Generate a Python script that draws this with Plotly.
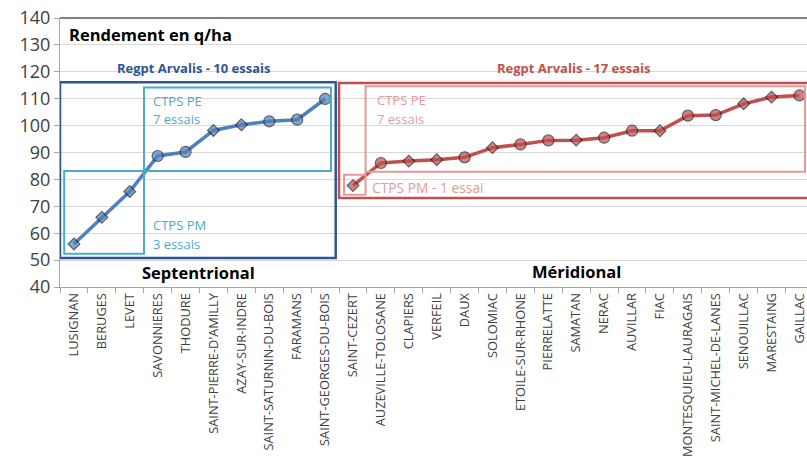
import plotly.graph_objects as go

# Yield per trial site (q/ha), northern and southern groups
sites_nord = ["LUSIGNAN", "BERUGES", "LEVET", "SAVONNIERES", "THODURE",
              "SAINT-PIERRE-D'AMILLY", "AZAY-SUR-INDRE", "SAINT-SATURNIN-DU-BOIS",
              "FARAMANS", "SAINT-GEORGES-DU-BOIS"]
yield_nord = [56.0, 65.9, 75.5, 88.7, 90.2, 98.2, 100.3, 101.6, 102.2, 109.9]
marker_nord = ["diamond", "diamond", "diamond", "circle", "circle",
               "diamond", "diamond", "circle", "circle", "circle"]

sites_sud = ["SAINT-CEZERT", "AUZEVILLE-TOLOSANE", "CLAPIERS", "VERFEIL", "DAUX",
             "SOLOMIAC", "ETOILE-SUR-RHONE", "PIERRELATTE", "SAMATAN", "NERAC",
             "AUVILLAR", "FIAC", "MONTESQUIEU-LAURAGAIS", "SAINT-MICHEL-DE-LANES",
             "SENOUILLAC", "MARESTAING", "GAILLAC"]
yield_sud = [77.7, 86.1, 86.8, 87.3, 88.2, 91.8, 93.0, 94.5, 94.6, 95.5,
             98.1, 98.1, 103.7, 103.9, 108.1, 110.6, 111.2]
marker_sud = ["diamond", "circle", "diamond", "diamond", "circle",
              "diamond", "circle", "circle", "diamond", "circle",
              "circle", "diamond", "circle", "circle", "diamond", "diamond", "circle"]

y_ticks = [40, 50, 60, 70, 80, 90, 100, 110, 120, 130, 140]

BLUE = "#4f81bd"
RED = "#c0504d"
NAVY = "#2f5597"
CYAN = "#4bacc6"
PINK = "#e39a99"
OUTLINE = "#1f1f1f"


def sizes(symbols):
    return [11 if s == "circle" else 9 for s in symbols]


fig = go.Figure()
fig.add_trace(go.Scatter(
    x=sites_nord, y=yield_nord, mode="lines+markers",
    line=dict(color=BLUE, width=3.5),
    marker=dict(symbol=marker_nord, size=sizes(marker_nord), color=BLUE,
                line=dict(color=OUTLINE, width=1.2)),
    showlegend=False, cliponaxis=False))
fig.add_trace(go.Scatter(
    x=sites_sud, y=yield_sud, mode="lines+markers",
    line=dict(color=RED, width=3.5),
    marker=dict(symbol=marker_sud, size=sizes(marker_sud), color=RED,
                line=dict(color=OUTLINE, width=1.2)),
    showlegend=False, cliponaxis=False))

shapes = [
    # northern group frames
    dict(type="rect", x0=-0.5, x1=9.38, y0=50.8, y1=116.1, line=dict(color=NAVY, width=2.5)),
    dict(type="rect", x0=-0.35, x1=2.51, y0=52.4, y1=83.1, line=dict(color=CYAN, width=2)),
    dict(type="rect", x0=2.51, x1=9.21, y0=83.1, y1=114.2, line=dict(color=CYAN, width=2)),
    # southern group frames
    dict(type="rect", x0=9.5, x1=26.4, y0=73.1, y1=115.8, line=dict(color=RED, width=2.5)),
    dict(type="rect", x0=10.45, x1=26.2, y0=82.8, y1=114.6, line=dict(color=PINK, width=2)),
    dict(type="rect", x0=9.68, x1=10.45, y0=74.3, y1=81.7, line=dict(color=PINK, width=2)),
    # top border of the plot area
    dict(type="line", xref="paper", yref="paper", x0=0, x1=1, y0=1, y1=1,
         line=dict(color="#595959", width=1.5)),
]

F = "Open Sans, Calibri, Arial, sans-serif"


def note(x, y, text, color, size=13, anchor="left", bold=False):
    return dict(x=x, y=y, text=f"<b>{text}</b>" if bold else text, showarrow=False,
                xanchor=anchor, font=dict(size=size, color=color, family=F))


annotations = [
    dict(x=0.009, y=133.9, xref="paper", yref="y", text="<b>Rendement en q/ha</b>",
         showarrow=False, xanchor="left", font=dict(size=16.5, color="#000000", family=F)),
    note(4.3, 121.5, "Regpt Arvalis - 10 essais", NAVY, anchor="center", bold=True),
    note(2.75, 109.0, "CTPS PE", CYAN),
    note(2.75, 102.45, "7 essais", CYAN),
    note(2.75, 63.05, "CTPS PM", CYAN),
    note(2.75, 56.0, "3 essais", CYAN),
    note(4.46, 45.3, "Septentrional", "#000000", size=16.5, anchor="center", bold=True),
    note(17.9, 121.5, "Regpt Arvalis - 17 essais", RED, anchor="center", bold=True),
    note(10.8, 109.6, "CTPS PE", PINK),
    note(10.8, 102.45, "7 essais", PINK),
    note(10.6, 77.0, "CTPS PM - 1 essai", PINK, size=13.8),
    note(18.0, 45.7, "Méridional", "#000000", size=16.5, anchor="center", bold=True),
]

fig.update_layout(
    width=807, height=457,
    margin=dict(l=60, r=0, t=18, b=170),
    paper_bgcolor="white", plot_bgcolor="white",
    shapes=shapes, annotations=annotations,
    font=dict(family=F, color="#404040"),
    xaxis=dict(
        type="category", categoryorder="array", categoryarray=sites_nord + sites_sud,
        range=[-0.5, 26.27], tickson="boundaries", ticks="outside", ticklen=5,
        tickcolor="#a6a6a6", tickangle=-90, tickfont=dict(size=12.8, color="#404040", family=F),
        showline=True, linecolor="#a6a6a6", linewidth=1, showgrid=False,
        automargin=False, fixedrange=True),
    yaxis=dict(
        range=[40, 140], tickvals=y_ticks, ticks="outside", ticklen=5,
        tickcolor="#a6a6a6", tickfont=dict(size=18, color="#404040", family=F),
        showline=True, linecolor="#a6a6a6", linewidth=1,
        showgrid=True, gridcolor="#d9d9d9", gridwidth=1, zeroline=False,
        automargin=False),
)

fig.write_html("out.html")
